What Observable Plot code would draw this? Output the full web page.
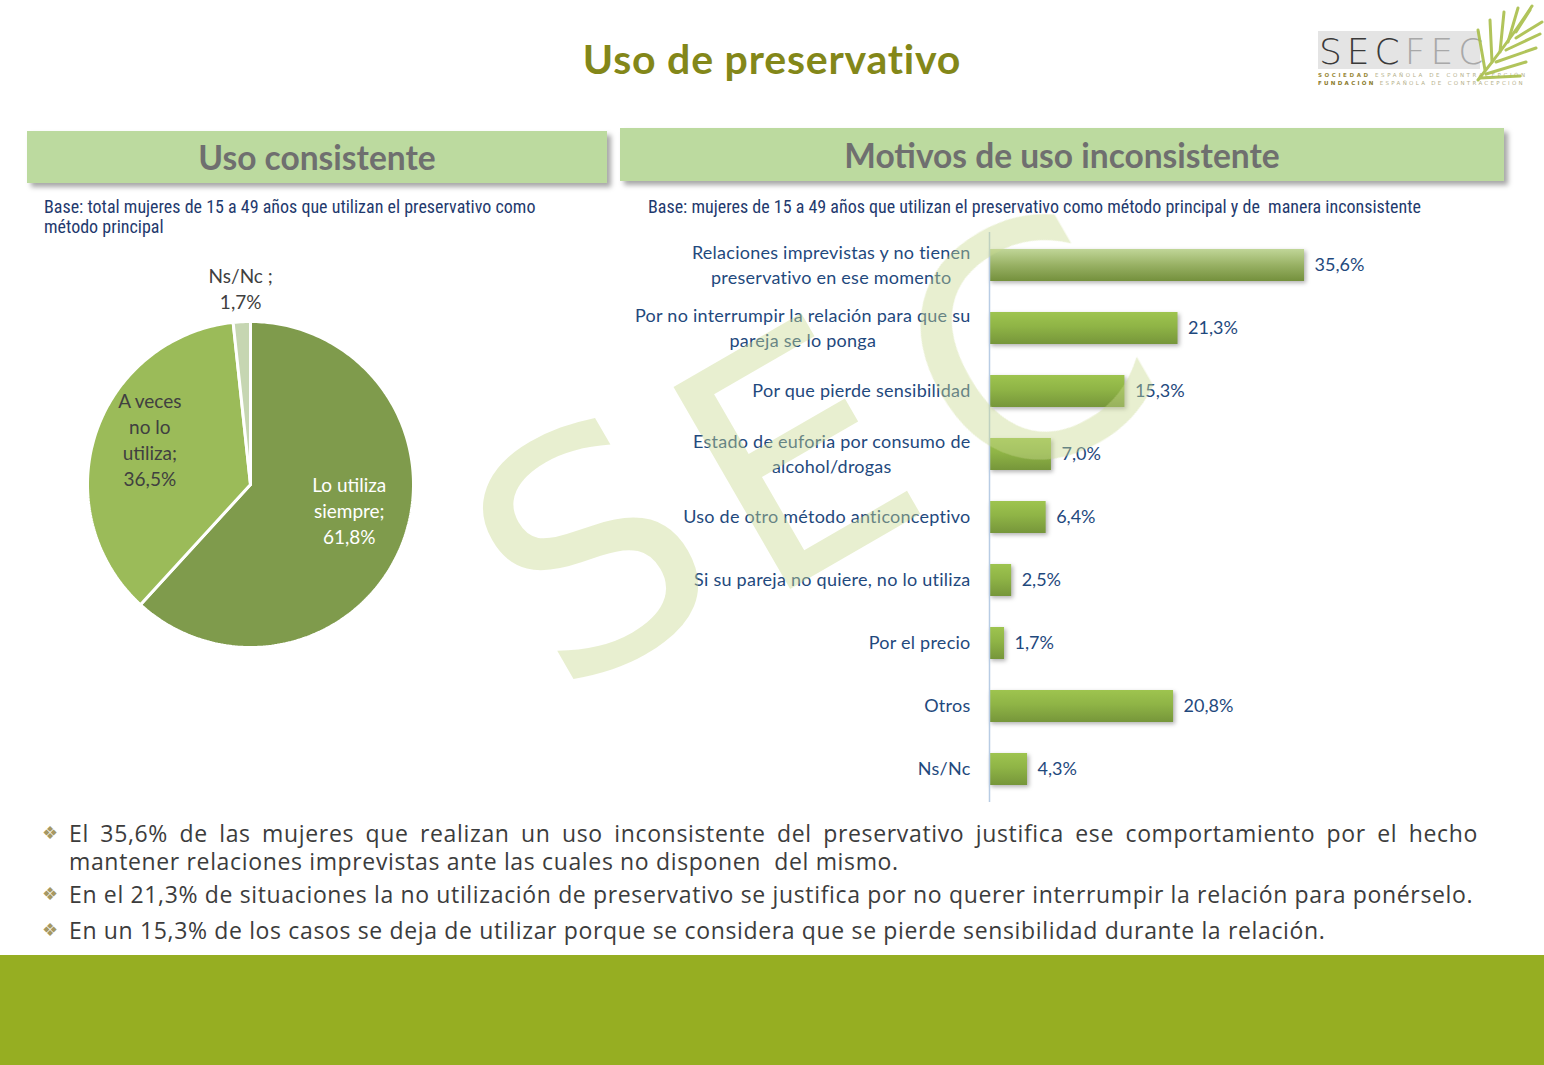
<!DOCTYPE html>
<html><head><meta charset="utf-8">
<script src="https://cdn.jsdelivr.net/npm/d3@7"></script>
<script src="https://cdn.jsdelivr.net/npm/@observablehq/plot@0.6"></script>
<style>
html,body{margin:0;padding:0}
body{width:1544px;height:1065px;position:relative;background:#fff;overflow:hidden;font-family:Lato,"Open Sans",sans-serif}
.abs{position:absolute}
#title{left:0;width:1544px;top:34px;text-align:center;font:bold 41px Lato,sans-serif;color:#838719;letter-spacing:0.8px}
.hdr{background:#BCDA9F;box-shadow:4px 4px 5px rgba(0,0,0,0.35);display:flex;align-items:center;justify-content:center;font:bold 33.5px Lato,sans-serif;color:#6F6F6F}
.base{font-family:"Liberation Sans Narrow","Roboto Condensed","Liberation Sans",sans-serif;font-size:18px;color:#1F3A6E;line-height:20px}
.bul{left:42px;width:1436px;font-family:"Open Sans",sans-serif;font-size:23px;letter-spacing:0.65px;color:#3C3C3C;line-height:28px}
.bul .txt{margin-left:27px;text-align:justify}
.bul .mk{position:absolute;left:0;top:0;color:#A69863;font-family:"DejaVu Sans";font-size:18px;letter-spacing:0}
#footer{left:0;top:955px;width:1544px;height:110px;background:#96AE22}
#bars rect{filter:drop-shadow(2px 2px 2px rgba(0,0,0,0.3))}
</style></head><body>
<div id="title" class="abs">Uso de preservativo</div>

<svg class="abs" style="left:1310px;top:0" width="234" height="100">
  <rect x="8" y="31" width="162" height="38" fill="#E4E4E4"/>
  <text x="9" y="64" font-family="DejaVu Sans" font-weight="200" font-size="36" letter-spacing="5"><tspan fill="#3A3A3A">SEC</tspan><tspan fill="#A8A8A8">FEC</tspan></text>
  <text x="8" y="77" font-family="DejaVu Sans" font-size="5.5" letter-spacing="2.6" fill="#B5B08A"><tspan fill="#9A8A3A" font-weight="bold">SOCIEDAD</tspan> ESPAÑOLA DE CONTRACEPCIÓN</text>
  <text x="8" y="85" font-family="DejaVu Sans" font-size="5.5" letter-spacing="2.3" fill="#B5B08A"><tspan fill="#8A7A2A" font-weight="bold">FUNDACIÓN</tspan> ESPAÑOLA DE CONTRACEPCIÓN</text>
  <g stroke="#A9BE4A" stroke-width="3" stroke-linecap="round" fill="none" opacity="0.9">
    <path d="M168 80 Q200 40 222 6"/>
    <path d="M175 70 L168 30"/><path d="M182 62 L180 20"/><path d="M190 52 L194 12"/>
    <path d="M198 42 L208 8"/><path d="M206 32 L220 10"/>
    <path d="M176 74 L216 62"/><path d="M186 62 L226 48"/><path d="M196 50 L230 34"/><path d="M206 38 L232 22"/>
    <path d="M170 78 L210 76"/>
  </g>
</svg>

<div class="abs hdr" style="left:27px;top:131px;width:580px;height:52px">Uso consistente</div>
<div class="abs hdr" style="left:620px;top:128px;width:884px;height:53px">Motivos de uso inconsistente</div>

<div class="abs base" style="left:44px;top:197px;width:560px">Base: total mujeres de 15 a 49 años que utilizan el preservativo como<br>método principal</div>
<div class="abs base" style="left:648px;top:197px;width:880px">Base: mujeres de 15 a 49 años que utilizan el preservativo como método principal y de&nbsp; manera inconsistente</div>

<div id="pie" class="abs" style="left:60px;top:250px"></div>
<div id="bars" class="abs" style="left:620px;top:228px"></div>

<svg class="abs" style="left:0;top:0;pointer-events:none" width="1544" height="1065">
  <g fill="#C9D98F" opacity="0.42" font-family="DejaVu Sans" font-size="320" text-anchor="middle" dominant-baseline="central">
    <text transform="translate(592,552) rotate(-30)">S</text>
    <text transform="translate(795,458) rotate(-30)">E</text>
    <text transform="translate(1025,352) rotate(-30)">C</text>
  </g>
</svg>

<div class="abs bul" style="top:819px"><span class="mk">❖</span><div class="txt">El 35,6% de las mujeres que realizan un uso inconsistente del preservativo justifica ese comportamiento por el hecho mantener relaciones imprevistas ante las cuales no disponen&nbsp; del mismo.</div></div>
<div class="abs bul" style="top:880px"><span class="mk">❖</span><div class="txt">En el 21,3% de situaciones la no utilización de preservativo se justifica por no querer interrumpir la relación para ponérselo.</div></div>
<div class="abs bul" style="top:916px"><span class="mk">❖</span><div class="txt">En un 15,3% de los casos se deja de utilizar porque se considera que se pierde sensibilidad durante la relación.</div></div>

<div id="footer" class="abs"></div>

<script>
// ---- Pie data ----
const pieCategories = ["Lo utiliza siempre", "A veces no lo utiliza", "Ns/Nc"];
const pieValues = [61.8, 36.5, 1.7];
const pieLabels = ["Lo utiliza\nsiempre;\n61,8%", "A veces\nno lo\nutiliza;\n36,5%", "Ns/Nc ;\n1,7%"];
const pieColors = ["#7F9B4C", "#9BBB59", "#C6D6B2"];
const pieLabelColors = ["#FFFFFF", "#404040", "#404040"];

// ---- Bar data ----
const barCategories = [
  "Relaciones imprevistas y no tienen preservativo en ese momento",
  "Por no interrumpir la relación para que su pareja se lo ponga",
  "Por que pierde sensibilidad",
  "Estado de euforia por consumo de alcohol/drogas",
  "Uso de otro método anticonceptivo",
  "Si su pareja no quiere, no lo utiliza",
  "Por el precio",
  "Otros",
  "Ns/Nc"
];
const barLabels = [
  "Relaciones imprevistas y no tienen\npreservativo en ese momento",
  "Por no interrumpir la relación para que su\npareja se lo ponga",
  "Por que pierde sensibilidad",
  "Estado de euforia por consumo de\nalcohol/drogas",
  "Uso de otro método anticonceptivo",
  "Si su pareja no quiere, no lo utiliza",
  "Por el precio",
  "Otros",
  "Ns/Nc"
];
const barValues = [35.6, 21.3, 15.3, 7.0, 6.4, 2.5, 1.7, 20.8, 4.3];

const fmt = v => v.toFixed(1).replace(".", ",") + "%";

// ---- Pie ----
const total = d3.sum(pieValues);
let acc = 0;
const slices = pieCategories.map((c, i) => {
  const a0 = acc / total * 2 * Math.PI;
  acc += pieValues[i];
  const a1 = acc / total * 2 * Math.PI;
  return {cat: c, i, a0, a1};
});
const piePts = [];
for (const s of slices) {
  piePts.push({cat: s.cat, x: 0, y: 0});
  const n = Math.max(2, Math.ceil((s.a1 - s.a0) / (Math.PI / 180)));
  for (let k = 0; k <= n; k++) {
    const a = s.a0 + (s.a1 - s.a0) * k / n;
    piePts.push({cat: s.cat, x: Math.sin(a), y: Math.cos(a)});
  }
  piePts.push({cat: s.cat, x: 0, y: 0});
}
const pieLabelData = slices.map(s => {
  const m = (s.a0 + s.a1) / 2;
  const r = pieValues[s.i] < 5 ? 1.13 : 0.65;
  return {x: Math.sin(m) * r, y: Math.cos(m) * r, text: pieLabels[s.i], color: pieLabelColors[s.i]};
});

const pie = Plot.plot({
  width: 380, height: 420,
  marginLeft: 27, marginRight: 27, marginTop: 71, marginBottom: 23,
  x: {domain: [-1, 1], axis: null},
  y: {domain: [-1, 1], axis: null},
  color: {type: "identity"},
  style: {fontFamily: "Lato, sans-serif", background: "transparent", overflow: "visible"},
  marks: [
    ...slices.map(s => Plot.line(piePts.filter(p => p.cat === s.cat), {
      x: "x", y: "y", fill: pieColors[s.i], stroke: "white", strokeWidth: 3, strokeLinejoin: "miter"
    })),
    Plot.text(pieLabelData, {x: "x", y: "y", text: "text", fill: "color", fontSize: 19, dy: -13, lineHeight: 1.37, lineAnchor: "middle", textAnchor: "middle"})
  ]
});
document.getElementById("pie").appendChild(pie);

// ---- Bars ----
const barData = barCategories.map((c, i) => ({cat: c, label: barLabels[i], value: barValues[i], first: i === 0}));
const bars = Plot.plot({
  width: 900, height: 580,
  marginLeft: 369, marginRight: 177, marginTop: 4, marginBottom: 6,
  x: {domain: [0, 40], axis: null},
  y: {domain: barCategories, axis: null, paddingInner: 0.5, paddingOuter: 0.25},
  style: {fontFamily: "Lato, sans-serif", color: "#1F497D", background: "transparent", overflow: "visible"},
  marks: [
    Plot.barX(barData.filter(d => !d.first), {x: "value", y: "cat", fill: "url(#gBar)"}),
    Plot.barX(barData.filter(d => d.first), {x: "value", y: "cat", fill: "url(#gBar1)"}),
    Plot.ruleX([0], {stroke: "#B8CCE4", strokeWidth: 1.5}),
    Plot.text(barData, {x: "value", y: "cat", text: d => fmt(d.value), dx: 10, textAnchor: "start", fontSize: 18, fill: "#1F497D"}),
    Plot.text(barData, {y: "cat", text: "label", frameAnchor: "left", dx: -19, dy: -2, textAnchor: "end", lineAnchor: "middle", lineHeight: 1.38, fontSize: 18, fill: "#1F497D"})
  ]
});
const ns = "http://www.w3.org/2000/svg";
const defs = document.createElementNS(ns, "defs");
defs.innerHTML = `
<linearGradient id="gBar" x1="0" y1="0" x2="0" y2="1">
  <stop offset="0" stop-color="#9EC44F"/><stop offset="0.45" stop-color="#8FB446"/><stop offset="1" stop-color="#76963A"/>
</linearGradient>
<linearGradient id="gBar1" x1="0" y1="0" x2="0" y2="1">
  <stop offset="0" stop-color="#C0D698"/><stop offset="0.5" stop-color="#98B164"/><stop offset="1" stop-color="#74903C"/>
</linearGradient>`;
bars.insertBefore(defs, bars.firstChild);
document.getElementById("bars").appendChild(bars);

// category labels: slight extra tracking, multi-line blocks centered line by line
const labelGroup = bars.querySelectorAll("g[aria-label=text]")[1];
if (labelGroup) labelGroup.setAttribute("letter-spacing", "0.25");
bars.querySelectorAll("text").forEach(t => {
  const tsp = t.querySelectorAll("tspan");
  if (tsp.length > 1) {
    const w = t.getBBox().width;
    t.setAttribute("text-anchor", "middle");
    const tr = t.getAttribute("transform") || "";
    t.setAttribute("transform", tr + ` translate(${-w / 2},0)`);
  }
});
</script>
</body></html>
